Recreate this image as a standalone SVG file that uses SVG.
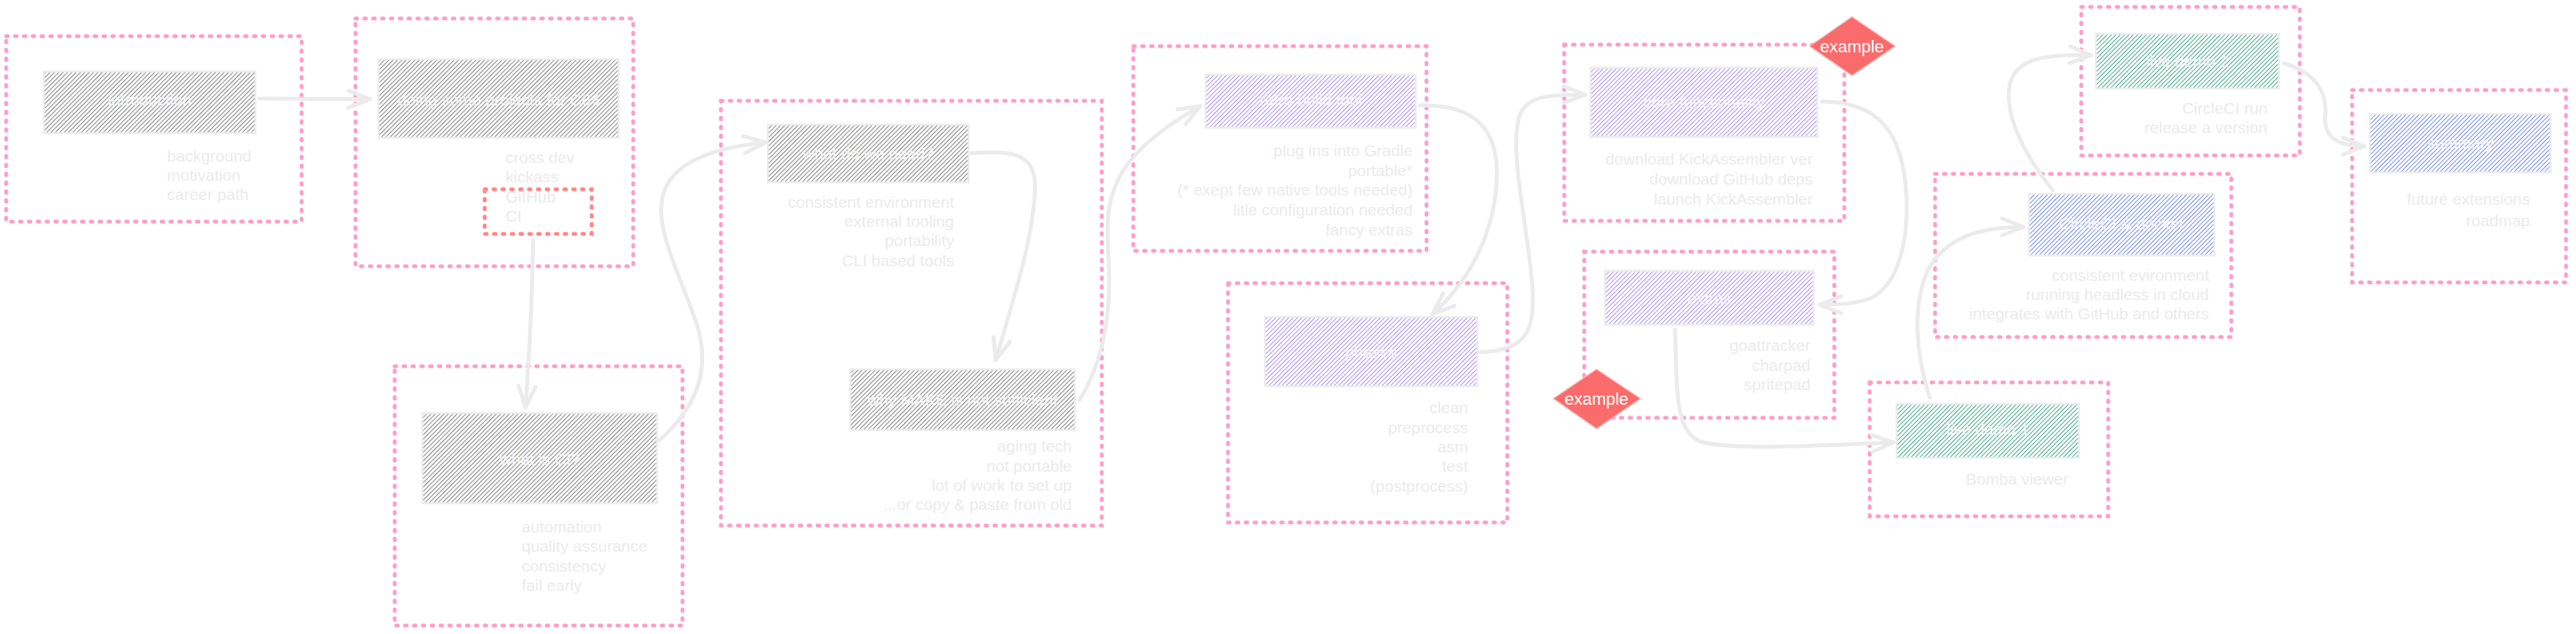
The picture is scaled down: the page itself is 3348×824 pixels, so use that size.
<svg xmlns="http://www.w3.org/2000/svg" width="3348" height="824" viewBox="0 0 3348 824">
<style>
.bg{fill:#ffffff}
.frame{fill:none;stroke:#ff9ec7;stroke-width:5;stroke-dasharray:2 9.5;stroke-linecap:round}
.frame-red{fill:none;stroke:#ff8787;stroke-width:5;stroke-dasharray:2 9.5;stroke-linecap:round}
.box{stroke:#ececec;stroke-width:2.5}
.gray{fill:url(#hatch-gray)}
.purple{fill:url(#hatch-purple)}
.green{fill:url(#hatch-green)}
.blue{fill:url(#hatch-blue)}
.label{font-family:"Liberation Sans",Arial,sans-serif;font-size:21px;fill:#f4f4f4;text-anchor:middle}
.note{font-family:"Liberation Sans",Arial,sans-serif;font-size:21px;fill:#ebebeb}
.end{text-anchor:end}
.conn{fill:none;stroke:#ebebeb;stroke-width:5;stroke-linecap:round;marker-end:url(#arrow)}
.diamond{fill:#fa6b6b;stroke:#ffb3b3;stroke-width:1.5}
.dtext{font-family:"Liberation Sans",Arial,sans-serif;font-size:22px;fill:#ffffff;text-anchor:middle}
</style>
<defs>
<pattern id="hatch-gray" patternUnits="userSpaceOnUse" width="4" height="4" patternTransform="rotate(45)">
<rect width="4" height="4" fill="#ffffff"/>
<line x1="0" y1="0" x2="0" y2="4" stroke="#858585" stroke-width="2.2"/>
</pattern>
<pattern id="hatch-purple" patternUnits="userSpaceOnUse" width="4" height="4" patternTransform="rotate(45)">
<rect width="4" height="4" fill="#ffffff"/>
<line x1="0" y1="0" x2="0" y2="4" stroke="#a88cf7" stroke-width="2"/>
</pattern>
<pattern id="hatch-green" patternUnits="userSpaceOnUse" width="4" height="4" patternTransform="rotate(45)">
<rect width="4" height="4" fill="#ffffff"/>
<line x1="0" y1="0" x2="0" y2="4" stroke="#3fa985" stroke-width="2"/>
</pattern>
<pattern id="hatch-blue" patternUnits="userSpaceOnUse" width="4" height="4" patternTransform="rotate(45)">
<rect width="4" height="4" fill="#ffffff"/>
<line x1="0" y1="0" x2="0" y2="4" stroke="#7089f2" stroke-width="2"/>
</pattern>
<marker id="arrow" markerUnits="userSpaceOnUse" viewBox="0 0 34 28" markerWidth="34" markerHeight="28" refX="31" refY="14" orient="auto">
<path d="M3,3 L31,14 L3,25" fill="none" stroke="#ebebeb" stroke-width="5" stroke-linecap="round" stroke-linejoin="round"/>
</marker>
</defs>
<rect class="bg" x="0" y="0" width="3348" height="824"/>

<g id="frames">
<rect class="frame" x="8" y="47" width="384" height="241"/>
<rect class="frame" x="462" y="24" width="361" height="322"/>
<rect class="frame" x="513" y="476" width="374" height="337"/>
<rect class="frame" x="937" y="131" width="495" height="552"/>
<rect class="frame" x="1473" y="60" width="381" height="266"/>
<rect class="frame" x="1596" y="368" width="363" height="311"/>
<rect class="frame" x="2033" y="58" width="364" height="229"/>
<rect class="frame" x="2059" y="327" width="325" height="216"/>
<rect class="frame" x="2430" y="497" width="310" height="174"/>
<rect class="frame" x="2515" y="226" width="385" height="212"/>
<rect class="frame" x="2705" y="9" width="284" height="193"/>
<rect class="frame" x="3057" y="117" width="278" height="250"/>
</g>

<g id="connectors">
<path class="conn" d="M337,128 L481,129"/>
<path class="conn" d="M693,312 Q691,420 683,530"/>
<path class="conn" d="M857,572 C905,530 925,480 905,420 C880,345 840,280 870,235 C895,200 950,190 995,185"/>
<path class="conn" d="M1263,199 C1320,195 1348,200 1345,250 C1342,310 1320,380 1294,468"/>
<path class="conn" d="M1403,520 C1440,460 1445,390 1440,320 C1436,250 1450,200 1560,138"/>
<path class="conn" d="M1845,137 C1920,135 1950,170 1945,240 C1940,310 1905,370 1862,408"/>
<path class="conn" d="M1923,458 C1975,455 1995,440 1992,380 C1988,300 1960,200 1975,150 C1985,125 2010,123 2060,123"/>
<path class="conn" d="M2368,132 C2440,132 2475,170 2478,260 C2480,330 2460,375 2430,388 C2410,395 2390,396 2365,396"/>
<path class="conn" d="M2177,428 C2180,500 2175,560 2210,574 C2250,585 2350,580 2461,575"/>
<path class="conn" d="M2508,517 C2490,460 2485,400 2505,352 C2530,305 2580,295 2630,295"/>
<path class="conn" d="M2668,247 C2630,200 2605,150 2612,110 C2620,75 2660,70 2718,72"/>
<path class="conn" d="M2968,82 C3010,95 3025,120 3022,150 C3020,180 3040,190 3073,190"/>
</g>

<g id="n-introduction">
<rect class="box gray" x="57" y="93" width="275" height="80"/>
<text class="label" x="194.5" y="137">introduction</text>
<text class="note" x="217" y="210">background<tspan x="217" dy="25">motivation</tspan><tspan x="217" dy="25">career path</tspan></text>
</g>

<g id="n-projects">
<rect class="box gray" x="492" y="77" width="312" height="102"/>
<text class="label" x="648" y="137">doing some projects for C64</text>
<text class="note" x="657" y="212">cross dev<tspan x="657" dy="25">kickass</tspan><tspan x="657" dy="26">GitHub</tspan><tspan x="657" dy="25">CI</tspan></text>
</g>

<g id="n-ci-group">
<rect class="frame-red" x="630" y="246" width="139" height="58"/>
</g>

<g id="n-what-is-ci">
<rect class="box gray" x="549" y="537" width="305" height="117"/>
<text class="label" x="701.5" y="604">what is CI?</text>
<text class="note" x="678" y="692">automation<tspan x="678" dy="25">quality assurance</tspan><tspan x="678" dy="26">consistency</tspan><tspan x="678" dy="25">fail early</tspan></text>
</g>

<g id="n-what-do-we-need">
<rect class="box gray" x="998" y="162" width="261" height="75"/>
<text class="label" x="1128.5" y="207">what do we need?</text>
<text class="note end" x="1240" y="270">consistent environment<tspan x="1240" dy="25">external tooling</tspan><tspan x="1240" dy="25">portability</tspan><tspan x="1240" dy="26">CLI based tools</tspan></text>
</g>

<g id="n-why-make">
<rect class="box gray" x="1105" y="480" width="292" height="79"/>
<text class="label" x="1251" y="527">why MAKE is not sufficient</text>
<text class="note end" x="1393" y="587">aging tech<tspan x="1393" dy="26">not portable</tspan><tspan x="1393" dy="25">lot of work to set up</tspan><tspan x="1393" dy="25">...or copy &amp; paste from old</tspan></text>
</g>

<g id="n-retro-build-tool">
<rect class="box purple" x="1567" y="97" width="273" height="69"/>
<text class="label" x="1703.5" y="137">retro build tool</text>
<text class="note end" x="1836" y="203">plug ins into Gradle<tspan x="1836" dy="26">portable*</tspan><tspan x="1836" dy="25">(* exept few native tools needed)</tspan><tspan x="1836" dy="26">litle configuration needed</tspan><tspan x="1836" dy="26">fancy extras</tspan></text>
</g>

<g id="n-phases">
<rect class="box purple" x="1644" y="412" width="276" height="90"/>
<text class="label" x="1782" y="465">phases</text>
<text class="note end" x="1908" y="537">clean<tspan x="1908" dy="26">preprocess</tspan><tspan x="1908" dy="25">asm</tspan><tspan x="1908" dy="25">test</tspan><tspan x="1908" dy="26">(postprocess)</tspan></text>
</g>

<g id="n-core-functionality">
<rect class="box purple" x="2067" y="88" width="295" height="90"/>
<text class="label" x="2214.5" y="140">core functionality</text>
<text class="note end" x="2356" y="214">download KickAssembler ver<tspan x="2356" dy="26">download GitHub deps</tspan><tspan x="2356" dy="26">launch KickAssembler</tspan></text>
</g>

<g id="n-example-1">
<polygon class="diamond" points="2352,60 2407,22 2463,60 2407,98"/>
<text class="dtext" x="2407" y="68">example</text>
</g>

<g id="n-extras">
<rect class="box purple" x="2086" y="352" width="271" height="70"/>
<text class="label" x="2221.5" y="395">extras</text>
<text class="note end" x="2353" y="456">goattracker<tspan x="2353" dy="26">charpad</tspan><tspan x="2353" dy="25">spritepad</tspan></text>
</g>

<g id="n-example-2">
<polygon class="diamond" points="2019,518 2075,480 2132,518 2075,557"/>
<text class="dtext" x="2075" y="526">example</text>
</g>

<g id="n-live-demo-1">
<rect class="box green" x="2465" y="525" width="237" height="70"/>
<text class="label" x="2583.5" y="565">live demo 1</text>
<text class="note end" x="2688" y="630">Bomba viewer</text>
</g>

<g id="n-circleci-docker">
<rect class="box blue" x="2637" y="252" width="241" height="80"/>
<text class="label" x="2757.5" y="298">CircleCI &amp; docker</text>
<text class="note end" x="2871" y="365">consistent evironment<tspan x="2871" dy="25">running headless in cloud</tspan><tspan x="2871" dy="25">integrates with GitHub and others</tspan></text>
</g>

<g id="n-live-demo-2">
<rect class="box green" x="2724" y="44" width="238" height="71"/>
<text class="label" x="2843" y="87">live demo 2</text>
<text class="note end" x="2947" y="148">CircleCI run<tspan x="2947" dy="25">release a version</tspan></text>
</g>

<g id="n-summary">
<rect class="box blue" x="3080" y="148" width="235" height="76"/>
<text class="label" x="3197.5" y="193">summary</text>
<text class="note end" x="3288" y="266">future extensions<tspan x="3288" dy="28">roadmap</tspan></text>
</g>
</svg>
